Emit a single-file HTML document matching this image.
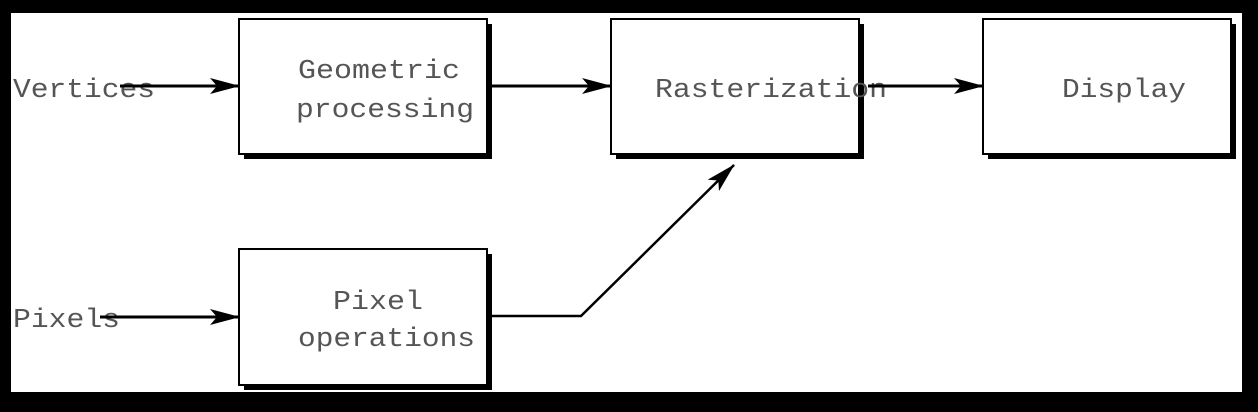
<!DOCTYPE html>
<html><head><style>
html,body{margin:0;padding:0;background:#000;}
svg{display:block;}
text{font-family:"Liberation Mono",monospace;font-size:27px;fill:#555;}
</style></head><body>
<svg width="1258" height="412" viewBox="0 0 1258 412">
<rect x="0" y="0" width="1258" height="412" fill="#000"/>
<rect x="11" y="13" width="1231" height="379" fill="#fff"/>
<defs>
<marker id="a" markerWidth="30" markerHeight="16" refX="29" refY="8" orient="auto" markerUnits="userSpaceOnUse">
<path d="M0,0 L30,8 L0,16 L7,8 Z" fill="#000"/>
</marker>
</defs>
<g fill="#000">
<rect x="244" y="24" width="248" height="135"/>
<rect x="616" y="24" width="248" height="135"/>
<rect x="988" y="24" width="248" height="135"/>
<rect x="244" y="254" width="248" height="136"/>
</g>
<g fill="#fff" stroke="#000" stroke-width="2">
<rect x="239" y="19" width="248" height="135"/>
<rect x="611" y="19" width="248" height="135"/>
<rect x="983" y="19" width="248" height="135"/>
<rect x="239" y="249" width="248" height="136"/>
</g>
<text x="298" y="78" textLength="162" lengthAdjust="spacingAndGlyphs">Geometric</text>
<text x="296" y="117" textLength="178" lengthAdjust="spacingAndGlyphs">processing</text>
<text x="655" y="97" textLength="232" lengthAdjust="spacingAndGlyphs">Rasterization</text>
<text x="1062" y="97" textLength="124" lengthAdjust="spacingAndGlyphs">Display</text>
<text x="333" y="309" textLength="90" lengthAdjust="spacingAndGlyphs">Pixel</text>
<text x="298" y="346" textLength="177" lengthAdjust="spacingAndGlyphs">operations</text>
<text x="13" y="97" textLength="142" lengthAdjust="spacingAndGlyphs">Vertices</text>
<text x="13" y="327" textLength="107" lengthAdjust="spacingAndGlyphs">Pixels</text>
<g stroke="#000" stroke-width="3" fill="none" marker-end="url(#a)">
<line x1="120" y1="86" x2="239" y2="86"/>
<line x1="490" y1="86" x2="611" y2="86"/>
<line x1="868" y1="86" x2="983" y2="86"/>
<line x1="100" y1="317" x2="239" y2="317"/>
</g>
<polyline points="490,316 581,316 734,165" stroke="#000" stroke-width="2.5" fill="none" marker-end="url(#a)"/>
</svg>
</body></html>
